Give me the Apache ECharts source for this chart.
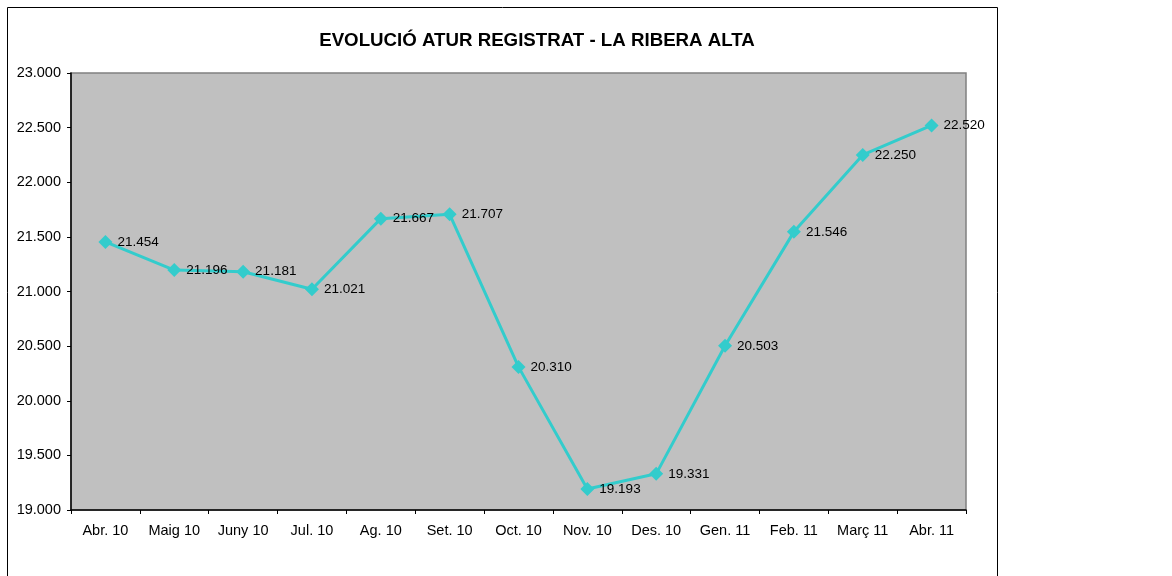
<!DOCTYPE html>
<html>
<head>
<meta charset="utf-8">
<script src="https://cdn.jsdelivr.net/npm/echarts@6/dist/echarts.min.js"></script>
<style>
    html, body { margin: 0; padding: 0; background: #fff; }
    #chart { width: 1172px; height: 576px; }
</style>
</head>
<body>
<div id="chart"></div>
<script>
// mesos
const months = ['Abr. 10', 'Maig 10', 'Juny 10', 'Jul. 10', 'Ag. 10', 'Set. 10', 'Oct. 10',
    'Nov. 10', 'Des. 10', 'Gen. 11', 'Feb. 11', 'Març 11', 'Abr. 11'];
// atur registrat
const aturValues = [21454, 21196, 21181, 21021, 21667, 21707, 20310, 19193, 19331, 20503, 21546, 22250, 22520];
const yMin = 19000;
const yMax = 23000;
const yStep = 500;

// 23000 -> "23.000"
function fmtNum(v) {
    return String(v).replace(/\B(?=(\d{3})+(?!\d))/g, '.');
}

const chart = echarts.init(document.getElementById('chart'));
chart.setOption({
    animation: false,
    title: {
        text: 'EVOLUCIÓ ATUR REGISTRAT - LA RIBERA ALTA',
        left: 532,
        top: 26,
        textAlign: 'center',
        textStyle: {
            fontFamily: 'Liberation Sans, Arial, sans-serif',
            fontSize: 18.7,
            fontWeight: 'bold',
            color: '#000'
        }
    },
    graphic: [{
        type: 'rect',
        shape: { x: 7.5, y: 7.5, width: 990, height: 620 },
        style: { fill: 'none', stroke: '#000', lineWidth: 1 },
        z: -1
    }, {
        // vora gris de la zona de dibuix
        type: 'rect',
        shape: { x: 71, y: 73, width: 895, height: 437 },
        style: { fill: '#C0C0C0', stroke: '#808080', lineWidth: 1.5 },
        z: -1
    }],
    grid: {
        left: 71,
        top: 73,
        right: 206,
        bottom: 66
    },
    xAxis: {
        type: 'category',
        data: months,
        boundaryGap: true,
        axisLine: { lineStyle: { color: '#000', width: 1.5 } },
        axisTick: { show: true, length: 4, alignWithLabel: false, lineStyle: { color: '#000' } },
        axisLabel: {
            margin: 13,
            fontFamily: 'Liberation Sans, Arial, sans-serif',
            fontSize: 14.5,
            color: '#000',
            interval: 0
        },
        splitLine: { show: false }
    },
    yAxis: {
        type: 'value',
        min: yMin,
        max: yMax,
        interval: yStep,
        axisLine: { show: true, lineStyle: { color: '#000', width: 1.5 } },
        axisTick: { show: true, length: 4, lineStyle: { color: '#000' } },
        axisLabel: {
            margin: 10,
            fontFamily: 'Liberation Sans, Arial, sans-serif',
            fontSize: 14.5,
            color: '#000',
            formatter: v => fmtNum(v)
        },
        splitLine: { show: false }
    },
    series: [{
        type: 'line',
        data: aturValues,
        symbol: 'diamond',
        symbolSize: 14,
        lineStyle: { color: '#33CCCC', width: 3 },
        itemStyle: { color: '#33CCCC' },
        label: {
            show: true,
            position: 'right',
            distance: 5,
            fontFamily: 'Liberation Sans, Arial, sans-serif',
            fontSize: 13.5,
            color: '#000',
            formatter: p => fmtNum(p.value)
        }
    }]
});
</script>
</body>
</html>
